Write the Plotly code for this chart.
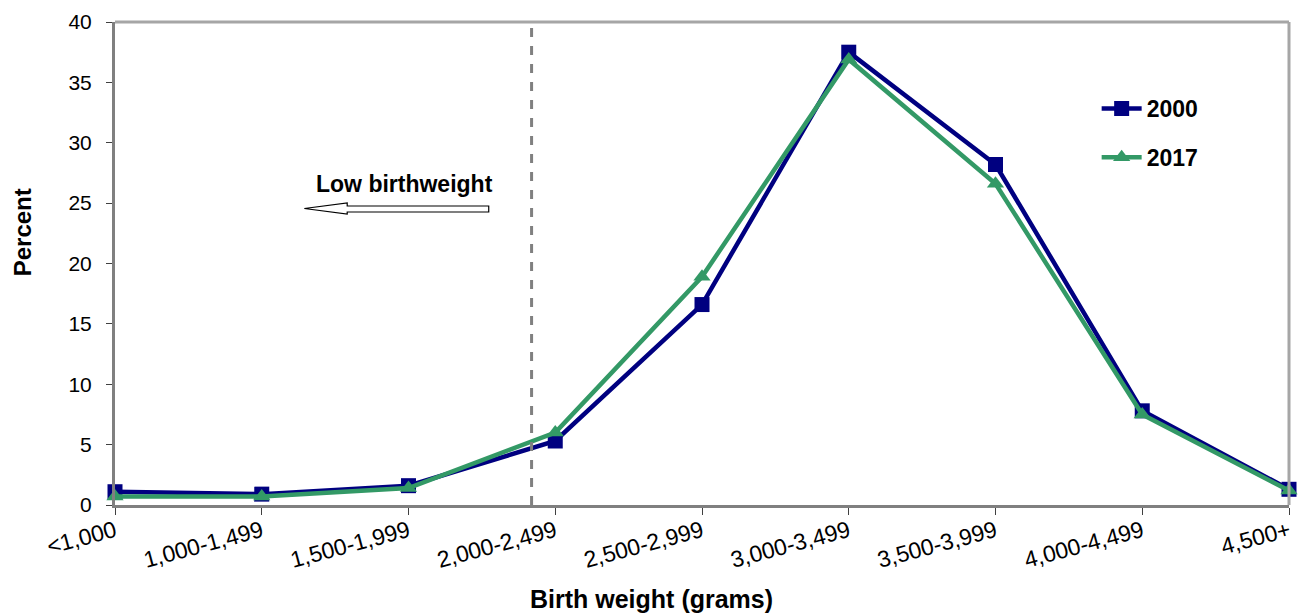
import plotly.graph_objects as go

categories = ["<1,000", "1,000-1,499", "1,500-1,999", "2,000-2,499", "2,500-2,999",
              "3,000-3,499", "3,500-3,999", "4,000-4,499", "4,500+"]
values_2000 = [1.1, 0.9, 1.6, 5.3, 16.6, 37.5, 28.2, 7.8, 1.3]
values_2017 = [0.7, 0.7, 1.4, 6.0, 18.9, 36.9, 26.6, 7.5, 1.2]
y_ticks = [0, 5, 10, 15, 20, 25, 30, 35, 40]

W, H = 1302, 615
L, R, T, B = 115, 1293, 22, 505

def px(X):
    return (X - L) / (R - L)

def py(Y):
    return (B - Y) / (B - T)

FONT = "Liberation Sans, Arial, sans-serif"

fig = go.Figure()
fig.add_trace(go.Scatter(
    x=categories, y=values_2000, name="<b>2000</b>", mode="lines+markers",
    line=dict(color="#000080", width=4.5),
    marker=dict(symbol="square", size=15, color="#000080"),
    cliponaxis=False, legendgroup="a"))
fig.add_trace(go.Scatter(
    x=categories, y=values_2017, name="<b>2017</b>", mode="lines+markers",
    line=dict(color="#339966", width=4.5),
    marker=dict(symbol="triangle-up", size=15, color="#339966"),
    cliponaxis=False, legendgroup="b"))

shapes = []
# top and right frame
shapes.append(dict(type="line", xref="paper", yref="paper", x0=0, x1=1, y0=1, y1=1,
                   line=dict(color="#A6A6A6", width=3)))
shapes.append(dict(type="line", xref="paper", yref="paper", x0=1, x1=1, y0=0, y1=1,
                   line=dict(color="#A6A6A6", width=3)))
# dashed low birthweight boundary
shapes.append(dict(type="line", xref="paper", yref="paper", x0=px(533), x1=px(533),
                   y0=0, y1=py(28), line=dict(color="#808080", width=3, dash="dash")))
# hollow block arrow
pts = [(305, 208.5), (348, 203), (348, 206), (490, 206), (490, 212), (348, 212), (348, 214)]
path = "M " + " L ".join(f"{px(a):.5f},{py(b):.5f}" for a, b in pts) + " Z"
shapes.append(dict(type="path", xref="paper", yref="paper", path=path,
                   line=dict(color="black", width=1.2), fillcolor="white"))

annotations = [
    dict(text="<b>Low birthweight</b>", xref="paper", yref="paper", x=px(405), y=py(184),
         showarrow=False, font=dict(family=FONT, size=23, color="black"),
         xanchor="center", yanchor="middle"),
    dict(text="<b>Percent</b>", xref="paper", yref="paper", x=px(22), y=py(232),
         showarrow=False, textangle=-90, font=dict(family=FONT, size=24, color="black"),
         xanchor="center", yanchor="middle"),
    dict(text="<b>Birth weight (grams)</b>", xref="paper", yref="paper", x=px(653), y=py(599),
         showarrow=False, font=dict(family=FONT, size=25, color="black"),
         xanchor="center", yanchor="middle"),
]

fig.update_layout(
    width=W, height=H,
    margin=dict(l=L, r=W - R, t=T, b=H - B, pad=0),
    paper_bgcolor="white", plot_bgcolor="white",
    font=dict(family=FONT, size=21, color="black"),
    showlegend=True,
    legend=dict(x=px(1100), y=py(87), xanchor="left", yanchor="top",
                font=dict(family=FONT, size=23, color="black"),
                bgcolor="rgba(0,0,0,0)", tracegroupgap=16, traceorder="grouped",
                itemwidth=40),
    shapes=shapes, annotations=annotations,
    xaxis=dict(type="category", range=[0, 8], showgrid=False, zeroline=False,
               showline=True, linecolor="#808080", linewidth=3,
               ticks="outside", ticklen=7, tickcolor="#404040", tickwidth=1,
               ticklabelstandoff=-6,
               tickangle=-15, tickfont=dict(family=FONT, size=23, color="black")),
    yaxis=dict(range=[0, 40], tickvals=y_ticks, showgrid=False, zeroline=False,
               showline=True, linecolor="#808080", linewidth=3,
               ticks="outside", ticklen=6, tickcolor="#404040", tickwidth=1,
               ticklabelstandoff=10,
               tickfont=dict(family=FONT, size=21, color="black")),
)

fig.write_html("out.html", config={"displayModeBar": False},
               post_script="document.body.style.margin='0';document.body.style.overflow='hidden';")
